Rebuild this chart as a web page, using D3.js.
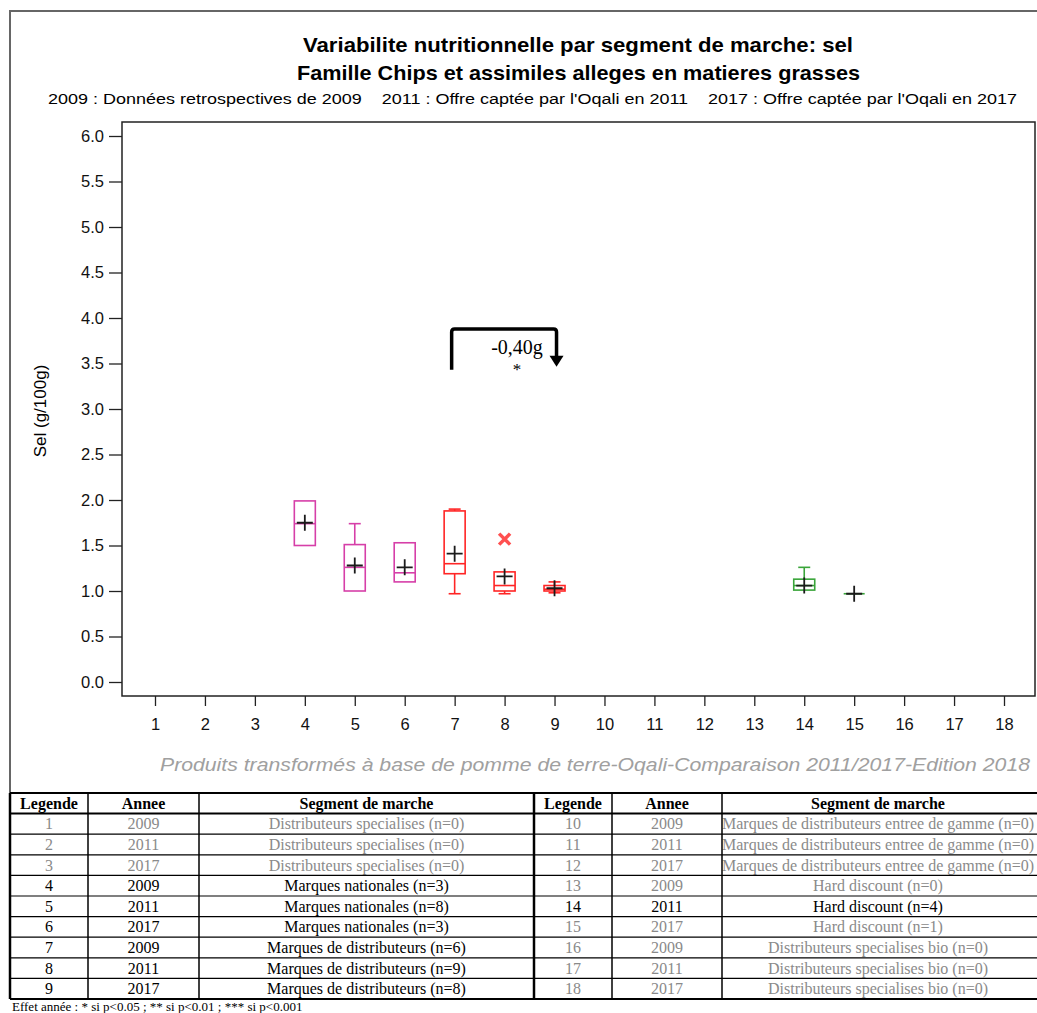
<!DOCTYPE html>
<html>
<head>
<meta charset="utf-8">
<script src="https://cdn.jsdelivr.net/npm/d3@7"></script>
<style>
  body { margin: 0; background: #fff; }
  svg { display: block; }
</style>
</head>
<body>
<svg width="1037" height="1013"></svg>
<script>
// ---- data ----
const legendes = d3.range(1, 19)
const annees = ['2009', '2011', '2017']
const segments = ['Distributeurs specialises', 'Marques nationales', 'Marques de distributeurs',
  'Marques de distributeurs entree de gamme', 'Hard discount', 'Distributeurs specialises bio']
const effectifs = [0, 0, 0, 3, 8, 3, 6, 9, 8, 0, 0, 0, 0, 4, 1, 0, 0, 0]
const couleurs = ['#d63fa8', '#d63fa8', '#ff2525', '#ff2525', '#3aa53a', '#3aa53a']

// box stats (one entry per drawn box)
const boxPos = [4, 5, 6, 7, 8, 9, 14, 15]
const boxMin = [1.50, 1.00, 1.10, 0.97, 0.97, 0.98, 1.01, 0.97]
const boxQ1 = [1.50, 1.00, 1.10, 1.19, 1.00, 1.00, 1.01, 0.97]
const boxMed = [1.74, 1.26, 1.20, 1.30, 1.06, 1.02, 1.06, 0.97]
const boxQ3 = [1.99, 1.51, 1.53, 1.88, 1.21, 1.06, 1.13, 0.97]
const boxMax = [1.99, 1.74, 1.53, 1.90, 1.21, 1.10, 1.26, 0.97]
const boxMean = [1.75, 1.28, 1.26, 1.41, 1.16, 1.03, 1.06, 0.97]

const outlierPos = [8]
const outlierVal = [1.57]

const yTicks = [0, 0.5, 1, 1.5, 2, 2.5, 3, 3.5, 4, 4.5, 5, 5.5, 6]

const annoFrom = 7, annoTo = 9, annoTop = 3.88, annoBottom = 3.43
const annoText = '-0,40g', annoSig = '*'

const svg = d3.select('svg')

// outer frame
svg.append('path')
  .attr('d', 'M10,793 L10,11 L1037,11')
  .attr('fill', 'none').attr('stroke', '#666').attr('stroke-width', 2)

// titles
const sans = 'Liberation Sans, Arial, sans-serif'
function fitText(txt, x, y, w, size, weight, style, color) {
  svg.append('text')
    .attr('x', x).attr('y', y)
    .attr('font-family', sans).attr('font-size', size)
    .attr('font-weight', weight || 'normal')
    .attr('font-style', style || 'normal')
    .attr('fill', color || '#000')
    .style('white-space', 'pre')
    .attr('textLength', w).attr('lengthAdjust', 'spacingAndGlyphs')
    .text(txt)
}
fitText('Variabilite nutritionnelle par segment de marche: sel', 303, 52, 550, 21, 'bold')
fitText('Famille Chips et assimiles alleges en matieres grasses', 297, 80, 563, 21, 'bold')
fitText("2009 : Données retrospectives de 2009    2011 : Offre captée par l'Oqali en 2011    2017 : Offre captée par l'Oqali en 2017",
  48, 104, 969, 14)
fitText('Produits transformés à base de pomme de terre-Oqali-Comparaison 2011/2017-Edition 2018',
  160, 771, 870, 19, 'normal', 'italic', '#a0a0a0')

// scales
const y = d3.scaleLinear().domain([0, 6]).range([682, 136])
const x = d3.scaleLinear().domain([1, 18]).range([155, 1004])

// plot frame
svg.append('rect')
  .attr('x', 122).attr('y', 122).attr('width', 913).attr('height', 574)
  .attr('fill', 'none').attr('stroke', '#222').attr('stroke-width', 1.5)

// y axis
const yAxis = svg.append('g')
  .attr('transform', 'translate(122,0)')
  .call(d3.axisLeft(y).tickValues(yTicks).tickFormat(d3.format('.1f')).tickSize(13).tickPadding(5))
yAxis.select('.domain').remove()
yAxis.selectAll('line').attr('stroke', '#222').attr('stroke-width', 1.3)
yAxis.selectAll('text').attr('font-family', sans).attr('font-size', 16.5).attr('fill', '#111')

svg.append('text')
  .attr('transform', 'translate(46,411) rotate(-90)')
  .attr('text-anchor', 'middle')
  .attr('font-family', sans).attr('font-size', 17)
  .text('Sel (g/100g)')

// x axis
const xAxis = svg.append('g')
  .attr('transform', 'translate(0,696)')
  .call(d3.axisBottom(x).tickValues(legendes).tickFormat(d3.format('d')).tickSize(10).tickPadding(12))
xAxis.select('.domain').remove()
xAxis.selectAll('line').attr('stroke', '#222').attr('stroke-width', 1.3)
xAxis.selectAll('text').attr('font-family', sans).attr('font-size', 16.5).attr('fill', '#111')

// boxes
const bw = 21
const boxes = boxPos.map((p, i) => ({
  pos: p, min: boxMin[i], q1: boxQ1[i], med: boxMed[i], q3: boxQ3[i], max: boxMax[i], mean: boxMean[i],
  color: couleurs[Math.floor((p - 1) / 3)]
}))

const g = svg.append('g')
boxes.forEach(d => {
  const cx = x(d.pos)
  const bg = g.append('g').attr('stroke', d.color).attr('stroke-width', 1.6).attr('fill', 'none')
  // whiskers
  if (d.max > d.q3) {
    bg.append('line').attr('x1', cx).attr('x2', cx).attr('y1', y(d.q3)).attr('y2', y(d.max))
    bg.append('line').attr('x1', cx - 6).attr('x2', cx + 6).attr('y1', y(d.max)).attr('y2', y(d.max))
  }
  if (d.min < d.q1) {
    bg.append('line').attr('x1', cx).attr('x2', cx).attr('y1', y(d.q1)).attr('y2', y(d.min))
    bg.append('line').attr('x1', cx - 6).attr('x2', cx + 6).attr('y1', y(d.min)).attr('y2', y(d.min))
  }
  bg.append('rect')
    .attr('x', cx - bw / 2).attr('width', bw)
    .attr('y', y(d.q3)).attr('height', Math.max(0, y(d.q1) - y(d.q3)))
  bg.append('line').attr('x1', cx - bw / 2).attr('x2', cx + bw / 2).attr('y1', y(d.med)).attr('y2', y(d.med))
  // mean marker
  const my = y(d.mean)
  g.append('path')
    .attr('d', `M${cx - 8},${my} H${cx + 8} M${cx},${my - 8} V${my + 8}`)
    .attr('stroke', '#1a1a1a').attr('stroke-width', 1.8)
})

// outliers
outlierPos.forEach((p, i) => {
  const cx = x(p), cy = y(outlierVal[i])
  g.append('path')
    .attr('d', `M${cx - 5.5},${cy - 5.5} L${cx + 5.5},${cy + 5.5} M${cx - 5.5},${cy + 5.5} L${cx + 5.5},${cy - 5.5}`)
    .attr('stroke', '#ff5050').attr('stroke-width', 3.5)
})

// annotation
const ax1 = x(annoFrom) - 3, ax2 = x(annoTo) + 2
svg.append('path')
  .attr('d', `M${ax1},${y(annoBottom)} V${y(annoTop) + 3} Q${ax1},${y(annoTop)} ${ax1 + 3},${y(annoTop)} H${ax2 - 3} Q${ax2},${y(annoTop)} ${ax2},${y(annoTop) + 3} V${y(annoBottom) - 13}`)
  .attr('fill', 'none').attr('stroke', '#000').attr('stroke-width', 3.5)
svg.append('path')
  .attr('d', `M${ax2 - 7},${y(annoBottom) - 14} L${ax2 + 7},${y(annoBottom) - 14} L${ax2},${y(annoBottom) - 3} Z`)
  .attr('fill', '#000')
svg.append('text')
  .attr('x', 517).attr('y', 354).attr('text-anchor', 'middle')
  .attr('font-family', 'Liberation Serif, serif').attr('font-size', 20)
  .text(annoText)
svg.append('text')
  .attr('x', 517).attr('y', 375).attr('text-anchor', 'middle')
  .attr('font-family', 'Liberation Serif, serif').attr('font-size', 17)
  .text(annoSig)

// ---- table ----
const serif = 'Liberation Serif, Times New Roman, serif'
const tTop = 793, rowH = 20.6
const cols = [10, 88, 199, 534, 612, 722, 1050]
const tbl = svg.append('g')
const headers = ['Legende', 'Annee', 'Segment de marche']
const rows = legendes.map((l, i) => ({
  leg: l, an: annees[i % 3], seg: segments[Math.floor(i / 3)] + ' (n=' + effectifs[i] + ')',
  grey: effectifs[i] <= 1
}))

function cell(txt, c, r, bold, grey) {
  tbl.append('text')
    .attr('x', (cols[c] + cols[c + 1]) / 2 - (c === 5 ? 8 : 0))
    .attr('y', tTop + rowH * r + rowH / 2 + 5.5)
    .attr('text-anchor', 'middle')
    .attr('font-family', serif).attr('font-size', 16)
    .attr('font-weight', bold ? 'bold' : 'normal')
    .attr('fill', grey ? '#8a8a8a' : '#000')
    .text(txt)
}
headers.forEach((h, i) => { cell(h, i, 0, true); cell(h, i + 3, 0, true) })
rows.forEach((d, i) => {
  const side = i < 9 ? 0 : 3
  const r = (i % 9) + 1
  cell(d.leg, side, r, false, d.grey)
  cell(d.an, side + 1, r, false, d.grey)
  cell(d.seg, side + 2, r, false, d.grey)
})
// horizontal lines
d3.range(11).forEach(r => {
  tbl.append('line')
    .attr('x1', cols[0]).attr('x2', 1037)
    .attr('y1', tTop + r * rowH).attr('y2', tTop + r * rowH)
    .attr('stroke', '#000').attr('stroke-width', (r === 0 || r === 1 || r === 10) ? 2 : 1.2)
})
cols.slice(0, 6).forEach((cx, i) => {
  tbl.append('line')
    .attr('x1', cx).attr('x2', cx)
    .attr('y1', tTop).attr('y2', tTop + 10 * rowH)
    .attr('stroke', '#000').attr('stroke-width', (i === 0 || i === 3) ? 2.5 : 1.5)
})

svg.append('text')
  .attr('x', 12).attr('y', 1011)
  .attr('font-family', serif).attr('font-size', 13)
  .text('Effet année : * si p<0.05 ; ** si p<0.01 ; *** si p<0.001')
</script>
</body>
</html>
